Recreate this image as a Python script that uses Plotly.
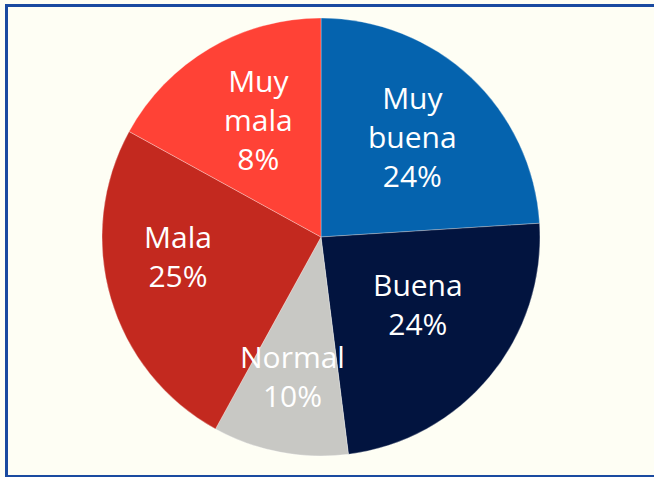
import plotly.graph_objects as go

# Data
categories = ["Muy buena", "Buena", "Normal", "Mala", "Muy mala"]
label_lines = ["Muy<br>buena", "Buena", "Normal", "Mala", "Muy<br>mala"]
printed_pct = [24, 24, 10, 25, 8]          # percentages printed on the chart
slice_share = [24, 24, 10, 25, 17]         # slice sizes as drawn
colors = ["#0563AE", "#02143F", "#C8C8C4", "#C3291F", "#FF4236"]

W, H = 654, 477
cx, cy, r = 321, 237, 219

fig = go.Figure()
fig.add_trace(go.Pie(
    labels=categories,
    values=slice_share,
    sort=False,
    direction="clockwise",
    rotation=0,
    marker=dict(colors=colors, line=dict(color="rgba(255,255,255,0.3)", width=1)),
    textinfo="none",
    hoverinfo="label+value",
    showlegend=False,
    domain=dict(x=[(cx - r) / W, (cx + r) / W], y=[1 - (cy + r) / H, 1 - (cy - r) / H]),
))

# label positions (pixel centres of the text blocks)
label_pos = [(412, 136), (418, 304), (292, 376), (178, 256), (258, 119)]
for name, pct, (px, py) in zip(label_lines, printed_pct, label_pos):
    fig.add_annotation(
        x=px / W, y=1 - py / H, xref="paper", yref="paper",
        text=f"{name}<br>{pct}%", showarrow=False,
        font=dict(family="Open Sans, Noto Sans, sans-serif", size=30, color="white"),
        align="center", xanchor="center", yanchor="middle",
    )

fig.add_shape(type="rect", xref="paper", yref="paper",
              x0=6.5 / W, x1=1.02, y0=0.5 / H, y1=1 - 5.5 / H,
              line=dict(color="#1A4AA0", width=3), fillcolor="rgba(0,0,0,0)")

fig.update_layout(
    width=W, height=H,
    margin=dict(l=0, r=0, t=0, b=0),
    paper_bgcolor="#FEFEF4",
    plot_bgcolor="#FEFEF4",
)

fig.write_html("out.html")
